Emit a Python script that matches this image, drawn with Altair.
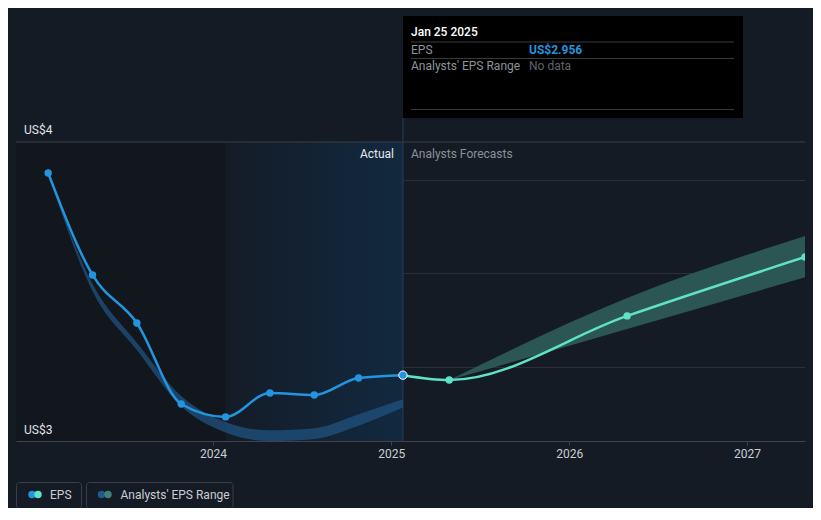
import altair as alt
import pandas as pd

# ---------------- data ----------------
eps_dates = ["2023-01-28", "2023-04-29", "2023-07-29", "2023-10-28", "2024-01-27",
             "2024-04-27", "2024-07-27", "2024-10-26", "2025-01-25"]
eps_values = [4.037, 3.492, 3.235, 2.802, 2.733, 2.861, 2.850, 2.941, 2.956]

past_range_low = [4.037, 3.405, 3.090, 2.790, 2.650, 2.604, 2.615, 2.686, 2.783]
past_range_high = [4.037, 3.445, 3.130, 2.845, 2.706, 2.661, 2.672, 2.747, 2.827]

fc_dates = ["2025-01-25", "2025-04-30", "2026-04-30", "2027-04-30"]
fc_values = [2.956, 2.930, 3.273, 3.588]

fc_range_dates = ["2025-04-30", "2026-04-30", "2027-04-30"]
fc_range_low = [2.930, 3.203, 3.480]
fc_range_high = [2.930, 3.369, 3.700]

region_start = ["2022-11-23", "2024-01-27"]
region_end = ["2024-01-27", "2025-01-25"]

grid_values = [3.0, 3.5, 4.0]
year_ticks = [2024, 2025, 2026, 2027]
y_min, y_max = 2.604, 4.203

W, H = 789, 299
FONT = "Roboto"
BG = "#151b24"
BLUE = "#2394df"
TEAL = "#5ee3c8"

eps_df = pd.DataFrame({"date": eps_dates, "eps": eps_values})
past_df = pd.DataFrame({"date": eps_dates, "low": past_range_low, "high": past_range_high})
fc_df = pd.DataFrame({"date": fc_dates, "eps": fc_values})
fcr_df = pd.DataFrame({"date": fc_range_dates, "low": fc_range_low, "high": fc_range_high})
last_df = pd.DataFrame({"date": [eps_dates[-1]], "eps": [eps_values[-1]]})

xscale = alt.Scale(type="utc",
                   domain=[alt.DateTime(year=2022, month=11, date=23, utc=True),
                           alt.DateTime(year=2027, month=4, date=30, utc=True)])
yscale = alt.Scale(domain=[y_min, y_max], nice=False, zero=False)

X = lambda f="date": alt.X(f"{f}:T", scale=xscale, title=None)
Y = lambda f: alt.Y(f"{f}:Q", scale=yscale, title=None)

# background regions
dark_region = alt.Chart(pd.DataFrame({"s": [region_start[0]], "e": [region_end[0]]})).mark_rect(
    color="#12161d").encode(
    x=alt.X("s:T", scale=xscale, title=None), x2="e:T",
    y=alt.value(0), y2=alt.value(H))

grad_region = alt.Chart(pd.DataFrame({"s": [region_start[1]], "e": [region_end[1]]})).mark_rect(
    fill=alt.Gradient(gradient="linear",
                      stops=[alt.GradientStop(color="#141c28", offset=0),
                             alt.GradientStop(color="#12293f", offset=1)],
                      x1=0, x2=1, y1=0, y2=0)).encode(
    x=alt.X("s:T", scale=xscale, title=None), x2="e:T",
    y=alt.value(0), y2=alt.value(H))

# axes / grid carrier
axes = alt.Chart(eps_df).mark_point(opacity=0).encode(
    x=alt.X("date:T", scale=xscale, title=None,
            axis=alt.Axis(values=[alt.DateTime(year=y, month=1, date=1, utc=True) for y in year_ticks],
                          format="%Y", labelColor="#c9cdd3", labelFontSize=12, labelFont=FONT,
                          tickColor="#3f444c", tickSize=4, domainColor="#3f444c",
                          labelPadding=3, grid=False)),
    y=alt.Y("eps:Q", scale=yscale, title=None,
            axis=alt.Axis(values=grid_values, grid=True, gridColor="#2a3039",
                          labels=False, ticks=False, domain=False)))

top_rule = alt.Chart(pd.DataFrame({"a": [0]})).mark_rule(color="#3a3f47", strokeWidth=1).encode(
    x=alt.value(0), x2=alt.value(W), y=alt.value(0))

vline = alt.Chart(last_df).mark_rule(color="#21405c", strokeWidth=1).encode(
    x=X(), y=alt.value(-24), y2=alt.value(H))

past_band = alt.Chart(past_df).mark_area(color="#1f4f7a", opacity=0.8, interpolate="monotone",
                                         clip=True).encode(
    x=X(), y=Y("low"), y2="high:Q")

fc_band = alt.Chart(fcr_df).mark_area(color="#2d5a56", opacity=0.95, interpolate="monotone",
                                      clip=True).encode(
    x=X(), y=Y("low"), y2="high:Q")

eps_line = alt.Chart(eps_df).mark_line(color=BLUE, strokeWidth=2.5, interpolate="monotone").encode(
    x=X(), y=Y("eps"))
fc_line = alt.Chart(fc_df).mark_line(color=TEAL, strokeWidth=2.5, interpolate="monotone",
                                     clip=True).encode(x=X(), y=Y("eps"))

eps_pts = alt.Chart(eps_df.iloc[:-1]).mark_circle(color=BLUE, size=55, opacity=1).encode(
    x=X(), y=Y("eps"))
fc_pts = alt.Chart(fc_df.iloc[1:]).mark_circle(color=TEAL, size=55, opacity=1, clip=True).encode(
    x=X(), y=Y("eps"))
last_pt = alt.Chart(last_df).mark_point(filled=True, fill=BLUE, stroke="white", strokeWidth=1,
                                        size=70, opacity=1).encode(x=X(), y=Y("eps"))


def text_layer(label, x, y, color, size=12, align="left", weight="normal"):
    return alt.Chart(pd.DataFrame({"t": [label]})).mark_text(
        align=align, baseline="middle", font=FONT, fontSize=size, color=color,
        fontWeight=weight).encode(x=alt.value(x), y=alt.value(y), text="t:N")


def hline(x1, x2, y, color):
    return alt.Chart(pd.DataFrame({"a": [0]})).mark_rule(color=color, strokeWidth=1).encode(
        x=alt.value(x1), x2=alt.value(x2), y=alt.value(y))


labels = [
    text_layer("Actual", 378, 12, "#e6e8eb", align="right"),
    text_layer("Analysts Forecasts", 395, 12, "#8b9098"),
    text_layer("US$4", 8, -12, "#e0e3e7"),
    text_layer("US$3", 8, 288, "#e0e3e7"),
]

# tooltip box
tip_box = alt.Chart(pd.DataFrame({"a": [0]})).mark_rect(color="#000000").encode(
    x=alt.value(387), x2=alt.value(727), y=alt.value(-126), y2=alt.value(-24))
tooltip = [
    tip_box,
    hline(395, 718, -100, "#3a3a3a"),
    hline(395, 718, -83.5, "#3a3a3a"),
    hline(395, 718, -32.5, "#3a3a3a"),
    text_layer("Jan 25 2025", 395, -110.5, "#ffffff", weight=500),
    text_layer("EPS", 395, -92.5, "#8e939a"),
    text_layer("US$2.956", 513, -92.5, BLUE, weight="bold"),
    text_layer("Analysts' EPS Range", 395, -76, "#8e939a"),
    text_layer("No data", 513, -76, "#5f646b"),
]

# legend
def box(x1, x2):
    return alt.Chart(pd.DataFrame({"a": [0]})).mark_rect(
        fill=BG, stroke="#3a404a", strokeWidth=1, cornerRadius=3).encode(
        x=alt.value(x1), x2=alt.value(x2), y=alt.value(340.5), y2=alt.value(366.5))


def dot(x, color):
    return alt.Chart(pd.DataFrame({"a": [0]})).mark_circle(color=color, size=55, opacity=1).encode(
        x=alt.value(x), y=alt.value(352.5))


legend = [
    box(0.5, 65.5), dot(16, BLUE), dot(22, TEAL), text_layer("EPS", 34, 352.5, "#c9cdd3"),
    box(70.5, 217), dot(85.5, "#1f5a8c"), dot(92, "#3e817b"),
    text_layer("Analysts' EPS Range", 104.5, 352.5, "#c9cdd3"),
]

chart = alt.layer(
    dark_region, grad_region, axes, top_rule, vline,
    past_band, fc_band, eps_line, fc_line, eps_pts, fc_pts, last_pt,
    *labels, *tooltip, *legend
).properties(
    width=W, height=H, background=BG,
    padding={"left": 8, "top": 134, "right": 8, "bottom": 67},
    autosize=alt.AutoSizeParams(type="none"),
).configure_view(stroke=None)

chart.save("out.html", embed_options={"renderer": "svg", "actions": False})
